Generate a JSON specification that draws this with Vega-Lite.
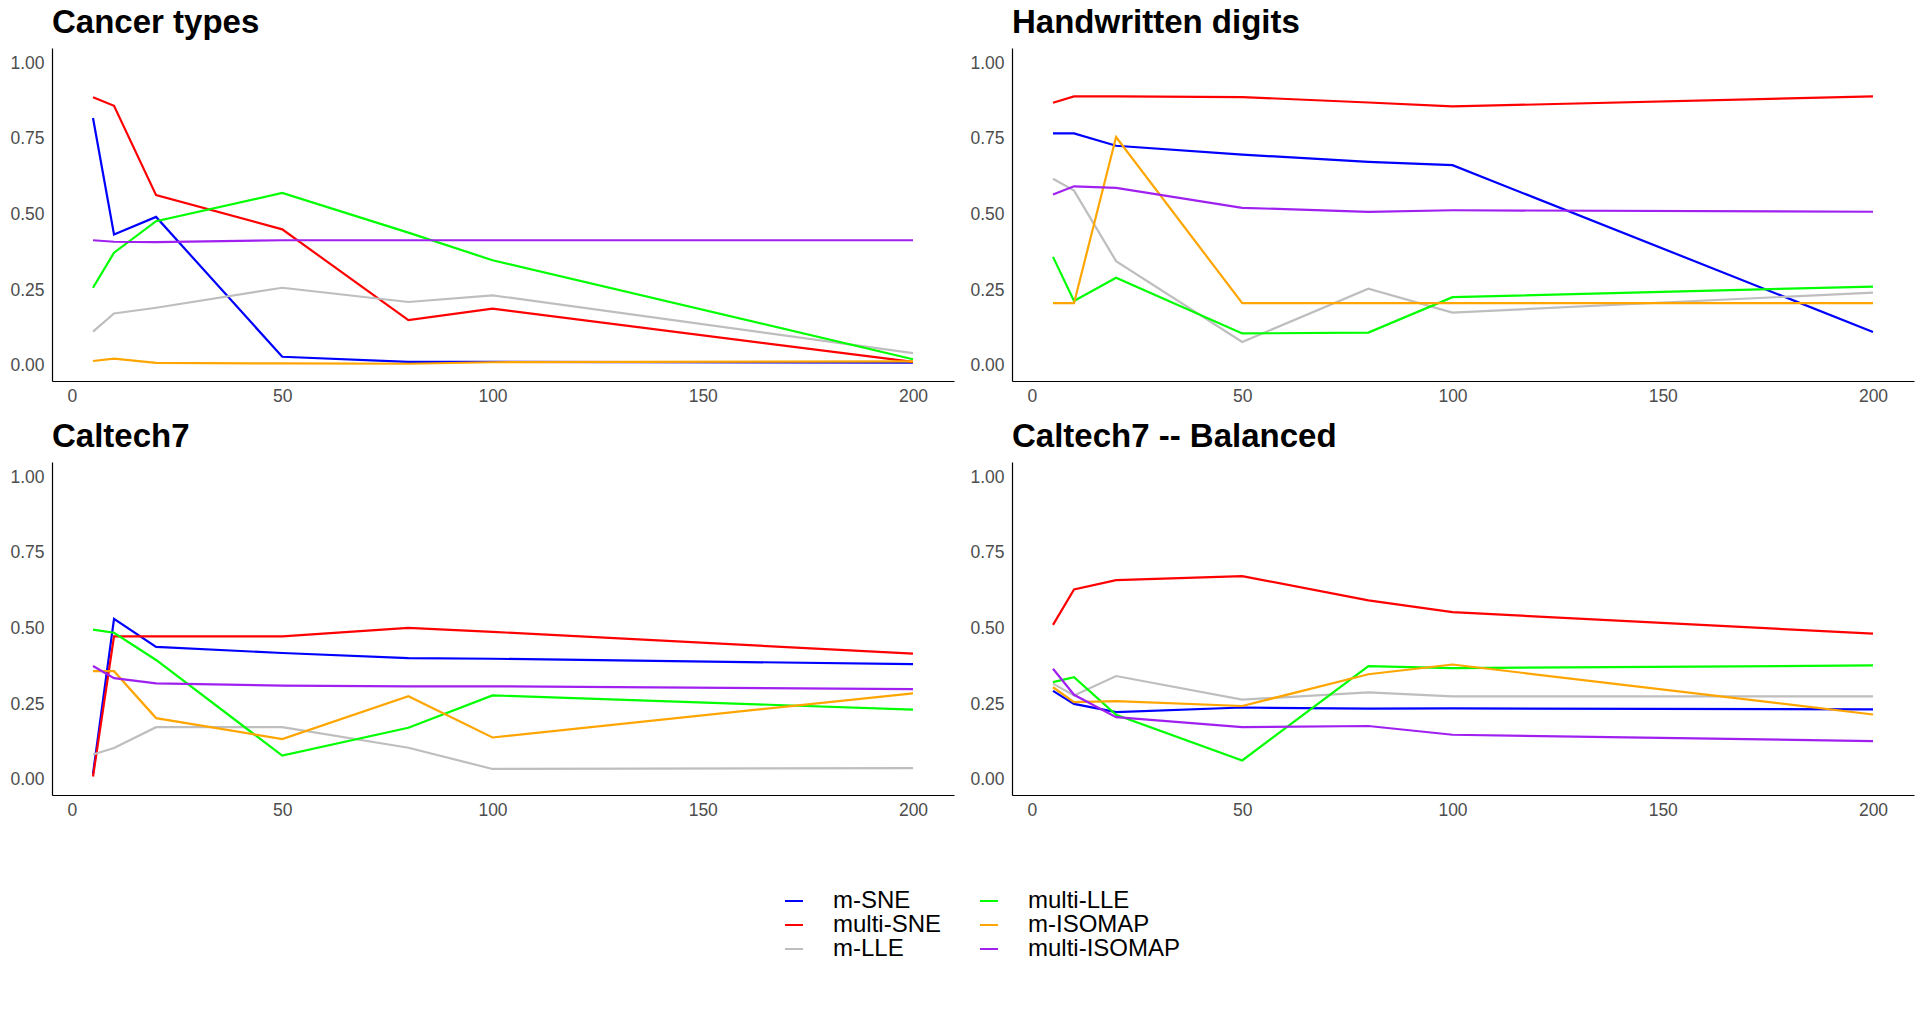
{
  "$schema": "https://vega.github.io/schema/vega-lite/v6.json",
  "padding": {"left": 9, "top": 7, "right": 5, "bottom": 5},
  "background": "white",
  "data": {"values": [
    {"panel":"Cancer types","method":"m-SNE","k":5,"value":0.819},
    {"panel":"Cancer types","method":"m-SNE","k":10,"value":0.434},
    {"panel":"Cancer types","method":"m-SNE","k":20,"value":0.492},
    {"panel":"Cancer types","method":"m-SNE","k":50,"value":0.030},
    {"panel":"Cancer types","method":"m-SNE","k":80,"value":0.013},
    {"panel":"Cancer types","method":"m-SNE","k":100,"value":0.013},
    {"panel":"Cancer types","method":"m-SNE","k":200,"value":0.011},
    {"panel":"Cancer types","method":"multi-SNE","k":5,"value":0.887},
    {"panel":"Cancer types","method":"multi-SNE","k":10,"value":0.859},
    {"panel":"Cancer types","method":"multi-SNE","k":20,"value":0.564},
    {"panel":"Cancer types","method":"multi-SNE","k":50,"value":0.451},
    {"panel":"Cancer types","method":"multi-SNE","k":80,"value":0.151},
    {"panel":"Cancer types","method":"multi-SNE","k":100,"value":0.189},
    {"panel":"Cancer types","method":"multi-SNE","k":200,"value":0.013},
    {"panel":"Cancer types","method":"m-LLE","k":5,"value":0.113},
    {"panel":"Cancer types","method":"m-LLE","k":10,"value":0.173},
    {"panel":"Cancer types","method":"m-LLE","k":20,"value":0.192},
    {"panel":"Cancer types","method":"m-LLE","k":50,"value":0.258},
    {"panel":"Cancer types","method":"m-LLE","k":80,"value":0.211},
    {"panel":"Cancer types","method":"m-LLE","k":100,"value":0.233},
    {"panel":"Cancer types","method":"m-LLE","k":200,"value":0.042},
    {"panel":"Cancer types","method":"multi-LLE","k":5,"value":0.258},
    {"panel":"Cancer types","method":"multi-LLE","k":10,"value":0.374},
    {"panel":"Cancer types","method":"multi-LLE","k":20,"value":0.478},
    {"panel":"Cancer types","method":"multi-LLE","k":50,"value":0.571},
    {"panel":"Cancer types","method":"multi-LLE","k":80,"value":0.440},
    {"panel":"Cancer types","method":"multi-LLE","k":100,"value":0.349},
    {"panel":"Cancer types","method":"multi-LLE","k":200,"value":0.022},
    {"panel":"Cancer types","method":"m-ISOMAP","k":5,"value":0.016},
    {"panel":"Cancer types","method":"m-ISOMAP","k":10,"value":0.024},
    {"panel":"Cancer types","method":"m-ISOMAP","k":20,"value":0.010},
    {"panel":"Cancer types","method":"m-ISOMAP","k":50,"value":0.008},
    {"panel":"Cancer types","method":"m-ISOMAP","k":80,"value":0.007},
    {"panel":"Cancer types","method":"m-ISOMAP","k":100,"value":0.012},
    {"panel":"Cancer types","method":"m-ISOMAP","k":200,"value":0.015},
    {"panel":"Cancer types","method":"multi-ISOMAP","k":5,"value":0.415},
    {"panel":"Cancer types","method":"multi-ISOMAP","k":10,"value":0.410},
    {"panel":"Cancer types","method":"multi-ISOMAP","k":20,"value":0.409},
    {"panel":"Cancer types","method":"multi-ISOMAP","k":50,"value":0.415},
    {"panel":"Cancer types","method":"multi-ISOMAP","k":80,"value":0.415},
    {"panel":"Cancer types","method":"multi-ISOMAP","k":100,"value":0.415},
    {"panel":"Cancer types","method":"multi-ISOMAP","k":200,"value":0.415},

    {"panel":"Handwritten digits","method":"m-SNE","k":5,"value":0.768},
    {"panel":"Handwritten digits","method":"m-SNE","k":10,"value":0.768},
    {"panel":"Handwritten digits","method":"m-SNE","k":20,"value":0.727},
    {"panel":"Handwritten digits","method":"m-SNE","k":50,"value":0.698},
    {"panel":"Handwritten digits","method":"m-SNE","k":80,"value":0.674},
    {"panel":"Handwritten digits","method":"m-SNE","k":100,"value":0.663},
    {"panel":"Handwritten digits","method":"m-SNE","k":200,"value":0.112},
    {"panel":"Handwritten digits","method":"multi-SNE","k":5,"value":0.869},
    {"panel":"Handwritten digits","method":"multi-SNE","k":10,"value":0.890},
    {"panel":"Handwritten digits","method":"multi-SNE","k":20,"value":0.890},
    {"panel":"Handwritten digits","method":"multi-SNE","k":50,"value":0.888},
    {"panel":"Handwritten digits","method":"multi-SNE","k":80,"value":0.870},
    {"panel":"Handwritten digits","method":"multi-SNE","k":100,"value":0.857},
    {"panel":"Handwritten digits","method":"multi-SNE","k":200,"value":0.890},
    {"panel":"Handwritten digits","method":"m-LLE","k":5,"value":0.618},
    {"panel":"Handwritten digits","method":"m-LLE","k":10,"value":0.579},
    {"panel":"Handwritten digits","method":"m-LLE","k":20,"value":0.346},
    {"panel":"Handwritten digits","method":"m-LLE","k":50,"value":0.079},
    {"panel":"Handwritten digits","method":"m-LLE","k":80,"value":0.255},
    {"panel":"Handwritten digits","method":"m-LLE","k":100,"value":0.176},
    {"panel":"Handwritten digits","method":"m-LLE","k":200,"value":0.242},
    {"panel":"Handwritten digits","method":"multi-LLE","k":5,"value":0.360},
    {"panel":"Handwritten digits","method":"multi-LLE","k":10,"value":0.214},
    {"panel":"Handwritten digits","method":"multi-LLE","k":20,"value":0.291},
    {"panel":"Handwritten digits","method":"multi-LLE","k":50,"value":0.107},
    {"panel":"Handwritten digits","method":"multi-LLE","k":80,"value":0.110},
    {"panel":"Handwritten digits","method":"multi-LLE","k":100,"value":0.227},
    {"panel":"Handwritten digits","method":"multi-LLE","k":200,"value":0.262},
    {"panel":"Handwritten digits","method":"m-ISOMAP","k":5,"value":0.207},
    {"panel":"Handwritten digits","method":"m-ISOMAP","k":10,"value":0.207},
    {"panel":"Handwritten digits","method":"m-ISOMAP","k":20,"value":0.756},
    {"panel":"Handwritten digits","method":"m-ISOMAP","k":50,"value":0.207},
    {"panel":"Handwritten digits","method":"m-ISOMAP","k":80,"value":0.207},
    {"panel":"Handwritten digits","method":"m-ISOMAP","k":100,"value":0.207},
    {"panel":"Handwritten digits","method":"m-ISOMAP","k":200,"value":0.207},
    {"panel":"Handwritten digits","method":"multi-ISOMAP","k":5,"value":0.566},
    {"panel":"Handwritten digits","method":"multi-ISOMAP","k":10,"value":0.593},
    {"panel":"Handwritten digits","method":"multi-ISOMAP","k":20,"value":0.588},
    {"panel":"Handwritten digits","method":"multi-ISOMAP","k":50,"value":0.522},
    {"panel":"Handwritten digits","method":"multi-ISOMAP","k":80,"value":0.509},
    {"panel":"Handwritten digits","method":"multi-ISOMAP","k":100,"value":0.514},
    {"panel":"Handwritten digits","method":"multi-ISOMAP","k":200,"value":0.509},

    {"panel":"Caltech7","method":"m-SNE","k":5,"value":0.020},
    {"panel":"Caltech7","method":"m-SNE","k":10,"value":0.532},
    {"panel":"Caltech7","method":"m-SNE","k":20,"value":0.439},
    {"panel":"Caltech7","method":"m-SNE","k":50,"value":0.419},
    {"panel":"Caltech7","method":"m-SNE","k":80,"value":0.402},
    {"panel":"Caltech7","method":"m-SNE","k":100,"value":0.400},
    {"panel":"Caltech7","method":"m-SNE","k":200,"value":0.382},
    {"panel":"Caltech7","method":"multi-SNE","k":5,"value":0.011},
    {"panel":"Caltech7","method":"multi-SNE","k":10,"value":0.474},
    {"panel":"Caltech7","method":"multi-SNE","k":20,"value":0.474},
    {"panel":"Caltech7","method":"multi-SNE","k":50,"value":0.474},
    {"panel":"Caltech7","method":"multi-SNE","k":80,"value":0.502},
    {"panel":"Caltech7","method":"multi-SNE","k":100,"value":0.489},
    {"panel":"Caltech7","method":"multi-SNE","k":200,"value":0.417},
    {"panel":"Caltech7","method":"m-LLE","k":5,"value":0.084},
    {"panel":"Caltech7","method":"m-LLE","k":10,"value":0.105},
    {"panel":"Caltech7","method":"m-LLE","k":20,"value":0.174},
    {"panel":"Caltech7","method":"m-LLE","k":50,"value":0.174},
    {"panel":"Caltech7","method":"m-LLE","k":80,"value":0.106},
    {"panel":"Caltech7","method":"m-LLE","k":100,"value":0.036},
    {"panel":"Caltech7","method":"m-LLE","k":200,"value":0.039},
    {"panel":"Caltech7","method":"multi-LLE","k":5,"value":0.496},
    {"panel":"Caltech7","method":"multi-LLE","k":10,"value":0.486},
    {"panel":"Caltech7","method":"multi-LLE","k":20,"value":0.396},
    {"panel":"Caltech7","method":"multi-LLE","k":50,"value":0.080},
    {"panel":"Caltech7","method":"multi-LLE","k":80,"value":0.172},
    {"panel":"Caltech7","method":"multi-LLE","k":100,"value":0.279},
    {"panel":"Caltech7","method":"multi-LLE","k":200,"value":0.232},
    {"panel":"Caltech7","method":"m-ISOMAP","k":5,"value":0.359},
    {"panel":"Caltech7","method":"m-ISOMAP","k":10,"value":0.359},
    {"panel":"Caltech7","method":"m-ISOMAP","k":20,"value":0.204},
    {"panel":"Caltech7","method":"m-ISOMAP","k":50,"value":0.135},
    {"panel":"Caltech7","method":"m-ISOMAP","k":80,"value":0.276},
    {"panel":"Caltech7","method":"m-ISOMAP","k":100,"value":0.140},
    {"panel":"Caltech7","method":"m-ISOMAP","k":200,"value":0.286},
    {"panel":"Caltech7","method":"multi-ISOMAP","k":5,"value":0.376},
    {"panel":"Caltech7","method":"multi-ISOMAP","k":10,"value":0.336},
    {"panel":"Caltech7","method":"multi-ISOMAP","k":20,"value":0.319},
    {"panel":"Caltech7","method":"multi-ISOMAP","k":50,"value":0.311},
    {"panel":"Caltech7","method":"multi-ISOMAP","k":80,"value":0.309},
    {"panel":"Caltech7","method":"multi-ISOMAP","k":100,"value":0.309},
    {"panel":"Caltech7","method":"multi-ISOMAP","k":200,"value":0.300},

    {"panel":"Caltech7 -- Balanced","method":"m-SNE","k":5,"value":0.294},
    {"panel":"Caltech7 -- Balanced","method":"m-SNE","k":10,"value":0.251},
    {"panel":"Caltech7 -- Balanced","method":"m-SNE","k":20,"value":0.224},
    {"panel":"Caltech7 -- Balanced","method":"m-SNE","k":50,"value":0.239},
    {"panel":"Caltech7 -- Balanced","method":"m-SNE","k":80,"value":0.235},
    {"panel":"Caltech7 -- Balanced","method":"m-SNE","k":100,"value":0.236},
    {"panel":"Caltech7 -- Balanced","method":"m-SNE","k":200,"value":0.233},
    {"panel":"Caltech7 -- Balanced","method":"multi-SNE","k":5,"value":0.512},
    {"panel":"Caltech7 -- Balanced","method":"multi-SNE","k":10,"value":0.629},
    {"panel":"Caltech7 -- Balanced","method":"multi-SNE","k":20,"value":0.660},
    {"panel":"Caltech7 -- Balanced","method":"multi-SNE","k":50,"value":0.673},
    {"panel":"Caltech7 -- Balanced","method":"multi-SNE","k":80,"value":0.593},
    {"panel":"Caltech7 -- Balanced","method":"multi-SNE","k":100,"value":0.554},
    {"panel":"Caltech7 -- Balanced","method":"multi-SNE","k":200,"value":0.483},
    {"panel":"Caltech7 -- Balanced","method":"m-LLE","k":5,"value":0.318},
    {"panel":"Caltech7 -- Balanced","method":"m-LLE","k":10,"value":0.279},
    {"panel":"Caltech7 -- Balanced","method":"m-LLE","k":20,"value":0.343},
    {"panel":"Caltech7 -- Balanced","method":"m-LLE","k":50,"value":0.265},
    {"panel":"Caltech7 -- Balanced","method":"m-LLE","k":80,"value":0.289},
    {"panel":"Caltech7 -- Balanced","method":"m-LLE","k":100,"value":0.276},
    {"panel":"Caltech7 -- Balanced","method":"m-LLE","k":200,"value":0.276},
    {"panel":"Caltech7 -- Balanced","method":"multi-LLE","k":5,"value":0.323},
    {"panel":"Caltech7 -- Balanced","method":"multi-LLE","k":10,"value":0.339},
    {"panel":"Caltech7 -- Balanced","method":"multi-LLE","k":20,"value":0.215},
    {"panel":"Caltech7 -- Balanced","method":"multi-LLE","k":50,"value":0.064},
    {"panel":"Caltech7 -- Balanced","method":"multi-LLE","k":80,"value":0.376},
    {"panel":"Caltech7 -- Balanced","method":"multi-LLE","k":100,"value":0.369},
    {"panel":"Caltech7 -- Balanced","method":"multi-LLE","k":200,"value":0.378},
    {"panel":"Caltech7 -- Balanced","method":"m-ISOMAP","k":5,"value":0.306},
    {"panel":"Caltech7 -- Balanced","method":"m-ISOMAP","k":10,"value":0.257},
    {"panel":"Caltech7 -- Balanced","method":"m-ISOMAP","k":20,"value":0.260},
    {"panel":"Caltech7 -- Balanced","method":"m-ISOMAP","k":50,"value":0.244},
    {"panel":"Caltech7 -- Balanced","method":"m-ISOMAP","k":80,"value":0.349},
    {"panel":"Caltech7 -- Balanced","method":"m-ISOMAP","k":100,"value":0.381},
    {"panel":"Caltech7 -- Balanced","method":"m-ISOMAP","k":200,"value":0.216},
    {"panel":"Caltech7 -- Balanced","method":"multi-ISOMAP","k":5,"value":0.367},
    {"panel":"Caltech7 -- Balanced","method":"multi-ISOMAP","k":10,"value":0.281},
    {"panel":"Caltech7 -- Balanced","method":"multi-ISOMAP","k":20,"value":0.207},
    {"panel":"Caltech7 -- Balanced","method":"multi-ISOMAP","k":50,"value":0.174},
    {"panel":"Caltech7 -- Balanced","method":"multi-ISOMAP","k":80,"value":0.178},
    {"panel":"Caltech7 -- Balanced","method":"multi-ISOMAP","k":100,"value":0.149},
    {"panel":"Caltech7 -- Balanced","method":"multi-ISOMAP","k":200,"value":0.128}
  ]},
  "facet": {
    "field": "panel",
    "type": "nominal",
    "sort": ["Cancer types", "Handwritten digits", "Caltech7", "Caltech7 -- Balanced"],
    "title": null,
    "header": {
      "labelFont": "Liberation Sans",
      "labelFontSize": 33,
      "labelFontWeight": "bold",
      "labelColor": "black",
      "labelAnchor": "start",
      "labelAlign": "left",
      "labelOrient": "top",
      "labelPadding": 8
    }
  },
  "columns": 2,
  "spacing": {"row": 16, "column": 15},
  "resolve": {"axis": {"x": "independent", "y": "independent"}},
  "spec": {
    "width": 902,
    "height": 333,
    "mark": {"type": "line", "strokeWidth": 2.2, "interpolate": "linear"},
    "encoding": {
      "x": {
        "field": "k", "type": "quantitative",
        "scale": {"domain": [-4.75, 209.75], "nice": false, "zero": false},
        "axis": {"title": null, "values": [0, 50, 100, 150, 200], "format": "d", "labelPadding": 6}
      },
      "y": {
        "field": "value", "type": "quantitative",
        "scale": {"domain": [-0.05, 1.05], "nice": false},
        "axis": {"title": null, "values": [0, 0.25, 0.5, 0.75, 1], "format": ".2f"}
      },
      "color": {
        "field": "method", "type": "nominal",
        "scale": {
          "domain": ["m-SNE", "multi-SNE", "m-LLE", "multi-LLE", "m-ISOMAP", "multi-ISOMAP"],
          "range": ["#0000FF", "#FF0000", "#BEBEBE", "#00FF00", "#FFA500", "#A020F0"]
        },
        "legend": {
          "title": null,
          "orient": "none",
          "legendX": 730,
          "legendY": 841,
          "columns": 2,
          "direction": "vertical",
          "symbolType": "stroke",
          "symbolSize": 324,
          "symbolStrokeWidth": 2,
          "labelFont": "Liberation Sans",
          "labelFontSize": 24,
          "labelColor": "black",
          "labelOffset": 27,
          "rowPadding": 0,
          "columnPadding": 34,
          "padding": 0
        }
      }
    }
  },
  "config": {
    "view": {"stroke": null},
    "axis": {
      "grid": false,
      "ticks": false,
      "domainColor": "black",
      "domainWidth": 1.2,
      "labelFont": "Liberation Sans",
      "labelFontSize": 17.5,
      "labelColor": "#4D4D4D",
      "labelPadding": 8
    }
  }
}
